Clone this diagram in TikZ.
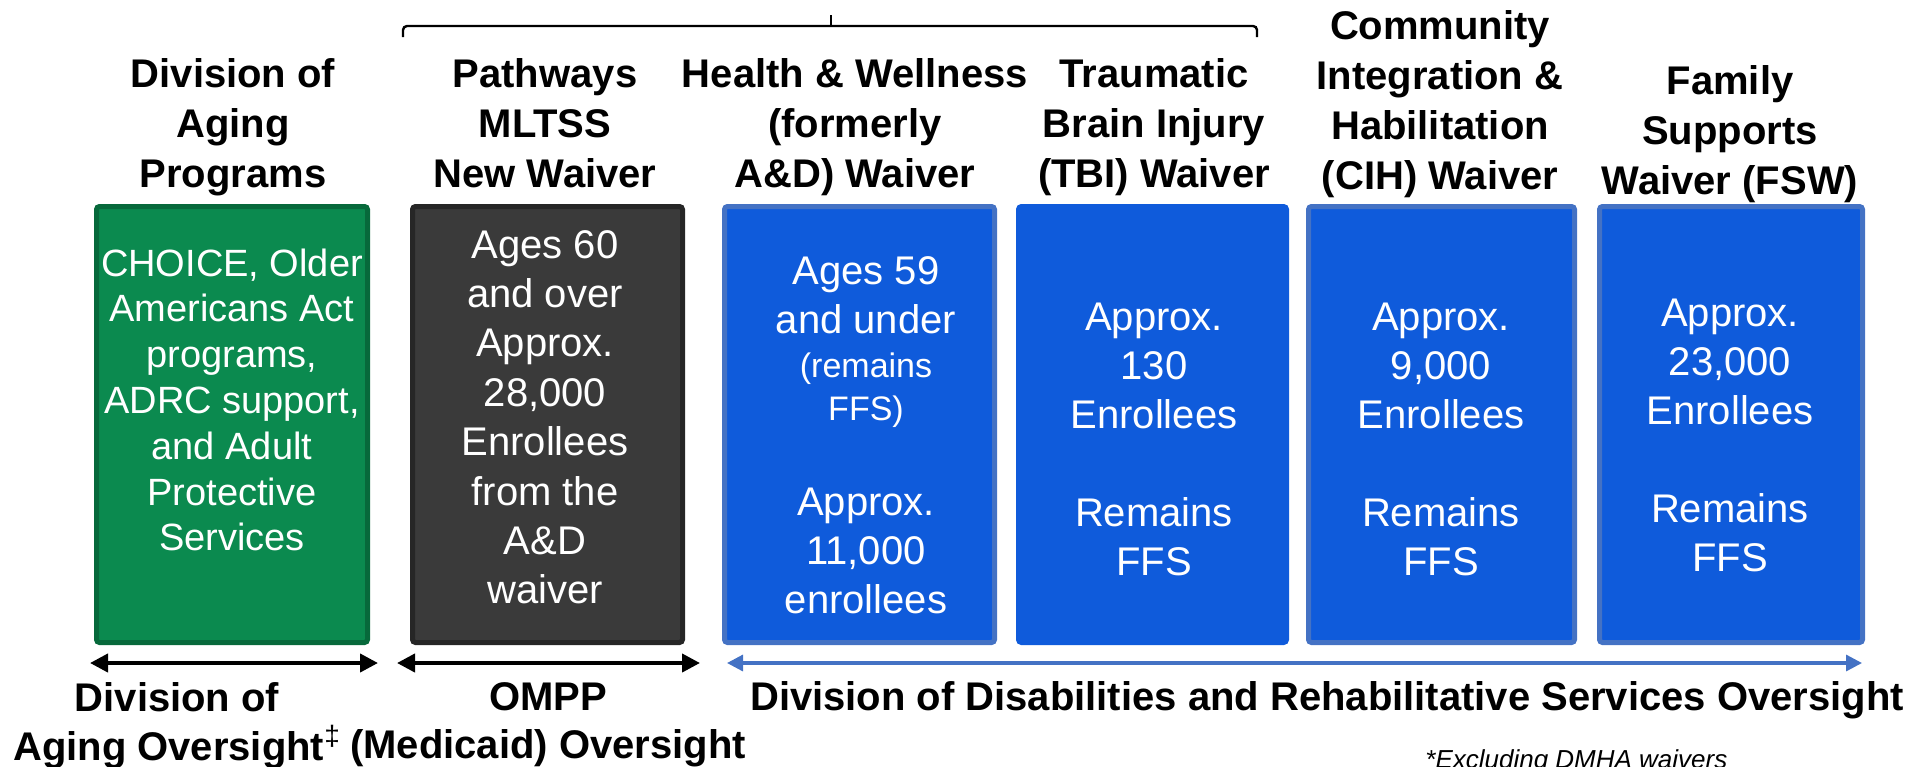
\documentclass[tikz,border=0pt]{standalone}
\usepackage{fontspec}
\setmainfont{Liberation Sans}
\usetikzlibrary{arrows.meta}
\definecolor{grnfill}{HTML}{0B8A4F}
\definecolor{grnline}{HTML}{07693B}
\definecolor{darkfill}{HTML}{3A3A3A}
\definecolor{darkline}{HTML}{262626}
\definecolor{bluefill}{HTML}{0F5BDB}
\definecolor{blueline}{HTML}{4472C4}
\newcommand\ml[1]{\begin{tabular}[t]{@{}c@{}}#1\end{tabular}}
\begin{document}
\begin{tikzpicture}[x=0.5pt,y=-0.5pt,
  panel/.style={rounded corners=1.5pt, line width=2.5pt},
  head/.style={anchor=base, inner sep=0pt, font=\fontsize{20}{25}\selectfont\bfseries},
  body/.style={anchor=base, inner sep=0pt, text=white, font=\fontsize{20}{24.7}\selectfont},
  small/.style={anchor=base, inner sep=0pt, text=white, font=\fontsize{17}{21.5}\selectfont},
  foot/.style={anchor=base, inner sep=0pt, font=\fontsize{20}{24}\selectfont\bfseries},
  blackarrow/.style={line width=2pt, {Triangle[length=9pt,width=9pt]}-{Triangle[length=9pt,width=9pt]}},
  bluearrow/.style={draw=blueline, line width=1.6pt, {Triangle[length=8pt,width=8pt]}-{Triangle[length=8pt,width=8pt]}},
  bracket/.style={line width=1.2pt, rounded corners=2pt}]
\useasboundingbox (0,0) rectangle (1925,766);

% brace
\coordinate (brL) at (403,37);
\coordinate (brR) at (1257,37);
\coordinate (brM) at (831,26);
\coordinate (brT) at (831,15);
\draw[bracket] (brL) -- (403,26) -- (1257,26) -- (brR);
\draw[bracket] (brM) -- (brT);

% panels
\draw[panel, fill=grnfill, draw=grnline] (96.5,206.5) rectangle (367.5,642.5);
\draw[panel, fill=darkfill, draw=darkline] (412.5,206.5) rectangle (682.5,642.5);
\draw[panel, fill=bluefill, draw=blueline] (724.5,206.5) rectangle (994.5,642.5);
\draw[panel, fill=bluefill, draw=bluefill] (1018.5,206.5) rectangle (1286.5,642.5);
\draw[panel, fill=bluefill, draw=blueline] (1308.5,206.5) rectangle (1574.5,642.5);
\draw[panel, fill=bluefill, draw=blueline] (1599.5,206.5) rectangle (1862.5,642.5);

% headings
\node[head] (h1) at (233,87) {\ml{Division of\\Aging\\Programs}};
\node[head] (h2) at (545,87) {\ml{Pathways\\MLTSS\\New Waiver}};
\node[head] (h3) at (855,87) {\ml{Health \& Wellness\\(formerly\\A\&D) Waiver}};
\node[head] (h4) at (1154,87) {\ml{Traumatic\\Brain Injury\\(TBI) Waiver}};
\node[head] (h5) at (1440,39) {\ml{Community\\Integration \&\\Habilitation\\(CIH) Waiver}};
\node[head] (h6) at (1730,94) {\ml{Family\\Supports\\Waiver (FSW)}};

% panel texts
\node[body, font=\fontsize{19}{22.9}\selectfont] (t1) at (232,276) {\ml{CHOICE, Older\\Americans Act\\programs,\\ADRC support,\\and Adult\\Protective\\Services}};
\node[body] (t2) at (545,258) {\ml{Ages 60\\and over\\Approx.\\28,000\\Enrollees\\from the\\A\&D\\waiver}};
\node[body] (t3a) at (866,284) {\ml{Ages 59\\and under}};
\node[small] (t3b) at (866,377) {\ml{(remains\\FFS)}};
\node[body] (t3c) at (866,515) {\ml{Approx.\\11,000\\enrollees}};
\node[body] (t4a) at (1154,330) {\ml{Approx.\\130\\Enrollees}};
\node[body] (t4b) at (1154,526) {\ml{Remains\\FFS}};
\node[body] (t5a) at (1441,330) {\ml{Approx.\\9,000\\Enrollees}};
\node[body] (t5b) at (1441,526) {\ml{Remains\\FFS}};
\node[body] (t6a) at (1730,326) {\ml{Approx.\\23,000\\Enrollees}};
\node[body] (t6b) at (1730,522) {\ml{Remains\\FFS}};

% oversight arrows
\coordinate (a1L) at (90,663);
\coordinate (a1R) at (378,663);
\coordinate (a2L) at (397,663);
\coordinate (a2R) at (700,663);
\coordinate (a3L) at (727,663);
\coordinate (a3R) at (1862,663);
\draw[blackarrow] (a1L) -- (a1R);
\draw[blackarrow] (a2L) -- (a2R);
\draw[bluearrow] (a3L) -- (a3R);

% oversight labels
\node[foot] (o1) at (177,711) {\ml{Division of\\Aging Oversight\textsuperscript{\mdseries\ddag}}};
\node[foot] (o2) at (548,710) {\ml{OMPP\\(Medicaid) Oversight}};
\node[foot] (o3) at (1327,710) {Division of Disabilities and Rehabilitative Services Oversight};
\node[anchor=base west, inner sep=0pt, font=\fontsize{13}{15}\selectfont\itshape] (fn) at (1425,768) {*Excluding DMHA waivers};
\end{tikzpicture}
\end{document}
